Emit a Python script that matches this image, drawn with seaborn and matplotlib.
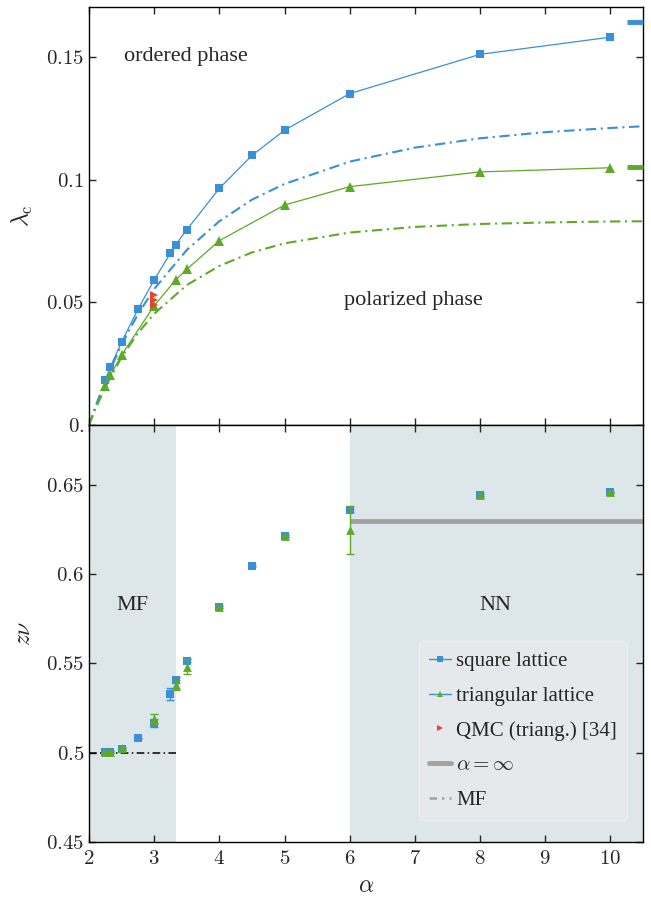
import numpy as np
import pandas as pd
import matplotlib
matplotlib.use('Agg')
import matplotlib.pyplot as plt
import seaborn as sns
from matplotlib.lines import Line2D

# --- top panel: critical coupling lambda_c vs alpha ---
alpha_sq = [2.25, 2.33, 2.5, 2.75, 3.0, 3.25, 3.33, 3.5, 4.0, 4.5, 5.0, 6.0, 8.0, 10.0]
lam_sq = [0.0183, 0.0238, 0.0338, 0.0471, 0.0591, 0.0700, 0.0735, 0.0795,
          0.0964, 0.1098, 0.1201, 0.1350, 0.1510, 0.1580]
alpha_tr = [2.25, 2.33, 2.5, 3.0, 3.33, 3.5, 4.0, 5.0, 6.0, 8.0, 10.0]
lam_tr = [0.0160, 0.0204, 0.0285, 0.0486, 0.0591, 0.0634, 0.0751, 0.0896,
          0.0971, 0.1031, 0.1048]
alpha_qmc = [3.0, 3.0, 3.0]
lam_qmc = [0.0530, 0.0510, 0.0490]
lam_inf = [0.1643, 0.1052]          # square, triangular (alpha = inf)

alpha_mf = [2.0, 2.1, 2.25, 2.5, 2.75, 3.0, 3.5, 4.0, 4.5, 5.0, 6.0, 7.0, 8.0, 9.0, 10.0, 10.5]
lam_mf_sq = [0.0, 0.0076, 0.0180, 0.0328, 0.0451, 0.0554, 0.0713, 0.0830,
             0.0918, 0.0982, 0.1073, 0.1130, 0.1168, 0.1193, 0.1210, 0.1217]
lam_mf_tr = [0.0, 0.0066, 0.0154, 0.0276, 0.0374, 0.0453, 0.0570, 0.0648,
             0.0703, 0.0740, 0.0784, 0.0807, 0.0819, 0.0825, 0.0829, 0.0830]

# --- bottom panel: exponent z*nu ---
znu_sq = [0.5003, 0.5003, 0.5022, 0.5080, 0.5168, 0.5327, 0.5407, 0.5515,
          0.5815, 0.6047, 0.6212, 0.6358, 0.6443, 0.6457]
err_sq = [0.0005, 0.0005, 0.0005, 0.0005, 0.0023, 0.0033, 0.0015, 0.0008,
          0.0005, 0.0005, 0.0005, 0.0008, 0.0008, 0.0005]
znu_tr = [0.5006, 0.5006, 0.5025, 0.5187, 0.5379, 0.5482, 0.5818, 0.6212,
          0.6247, 0.6443, 0.6457]
err_tr = [0.0005, 0.0005, 0.0008, 0.0028, 0.0030, 0.0040, 0.0008, 0.0005,
          0.0132, 0.0012, 0.0005]
znu_inf = 0.6299
znu_mf = 0.5
mf_region = [2.0, 3.333]
nn_region = [6.0, 10.5]

blue = '#3a8fd9'
green = '#5ea926'
red = '#e8432b'
grey = '#a2a2a2'
shade = '#dde6e8'

sns.set_theme(style='ticks')
plt.rcParams['font.family'] = ['Liberation Serif', 'DejaVu Serif']
plt.rcParams['mathtext.fontset'] = 'cm'
plt.rcParams['xtick.direction'] = 'in'
plt.rcParams['ytick.direction'] = 'in'
plt.rcParams['xtick.top'] = True
plt.rcParams['ytick.right'] = True
plt.rcParams['axes.edgecolor'] = 'black'
plt.rcParams['axes.linewidth'] = 1.0

fig = plt.figure(figsize=(6.51, 9.05), dpi=100)
ax1 = fig.add_axes([0.1367, 0.5304, 0.851, 0.4619])
ax2 = fig.add_axes([0.1367, 0.0696, 0.851, 0.4608], sharex=ax1)

top = pd.DataFrame({'alpha': alpha_mf, 'sq': lam_mf_sq, 'tr': lam_mf_tr})
sns.lineplot(data=top, x='alpha', y='sq', ax=ax1, color=blue, lw=1.5,
             zorder=2).lines[-1].set_dashes([5, 2.2, 1, 2.2])
sns.lineplot(data=top, x='alpha', y='tr', ax=ax1, color=green, lw=1.5,
             zorder=2).lines[-1].set_dashes([5, 2.2, 1, 2.2])

sns.lineplot(x=alpha_sq, y=lam_sq, ax=ax1, color=blue, lw=0.9, marker='s',
             markersize=5.5, markeredgewidth=0, zorder=3)
sns.lineplot(x=alpha_tr, y=lam_tr, ax=ax1, color=green, lw=0.9, marker='^',
             markersize=6.5, markeredgewidth=0, zorder=3)
ax1.plot(alpha_qmc, lam_qmc, ls='none', marker='>', color=red, ms=5.5, mew=0, zorder=4)

for val, c in zip(lam_inf, [blue, green]):
    ax1.plot([10.25, 10.5], [val, val], color=c, lw=3.5, solid_capstyle='butt',
             clip_on=False, zorder=5)

ax1.set_xlim(2, 10.5)
ax1.set_ylim(0, 0.1703)
ax1.set_yticks([0, 0.05, 0.1, 0.15])
ax1.set_yticklabels(['$0.$', '$0.05$', '$0.1$', '$0.15$'])
ax1.tick_params(labelbottom=False, labelsize=15, length=5, width=1)
ax1.set_xlabel('')
ax1.set_ylabel(r'$\lambda_{\rm c}$', fontsize=17, labelpad=8)
ax1.text(3.48, 0.150, 'ordered phase', ha='center', va='center', fontsize=16)
ax1.text(6.97, 0.0509, 'polarized phase', ha='center', va='center', fontsize=16)

# bottom panel
ax2.axvspan(*mf_region, color=shade, lw=0, zorder=0)
ax2.axvspan(*nn_region, color=shade, lw=0, zorder=0)
ax2.plot(nn_region, [znu_inf, znu_inf], color=grey, lw=3.5, solid_capstyle='butt', zorder=1)
ax2.plot(mf_region, [znu_mf, znu_mf], color='black', lw=1.1, dashes=[5, 2.2, 1, 2.2], zorder=1)

ax2.errorbar(alpha_sq, znu_sq, yerr=err_sq, fmt='none', ecolor=blue, elinewidth=1,
             capsize=3, capthick=1, zorder=2)
sns.scatterplot(x=alpha_sq, y=znu_sq, ax=ax2, color=blue, marker='s', s=34,
                linewidth=0, zorder=3)
ax2.errorbar(alpha_tr, znu_tr, yerr=err_tr, fmt='none', ecolor=green, elinewidth=1,
             capsize=3, capthick=1, zorder=4)
sns.scatterplot(x=alpha_tr, y=znu_tr, ax=ax2, color=green, marker='^', s=40,
                linewidth=0, zorder=5)

ax2.set_xlim(2, 10.5)
ax2.set_ylim(0.45, 0.6835)
ax2.set_xticks(range(2, 11))
ax2.set_xticklabels([f'${v}$' for v in range(2, 11)])
ax2.set_yticks([0.45, 0.5, 0.55, 0.6, 0.65])
ax2.set_yticklabels(['$0.45$', '$0.5$', '$0.55$', '$0.6$', '$0.65$'])
ax2.tick_params(labelsize=15, length=5, width=1)
ax2.tick_params(axis='x', pad=6)
ax2.set_xlabel(r'$\alpha$', fontsize=17, labelpad=5)
ax2.set_ylabel(r'$z\nu$', fontsize=17, labelpad=8)
ax2.text(2.67, 0.5827, 'MF', ha='center', va='center', fontsize=16)
ax2.text(8.24, 0.5827, 'NN', ha='center', va='center', fontsize=16)

handles = [
    Line2D([], [], color=blue, lw=1, marker='s', ms=4, mew=0),
    Line2D([], [], color=blue, lw=1, marker='^', ms=5, mew=0, markerfacecolor=green),
    Line2D([], [], ls='none', color=red, marker='>', ms=4, mew=0),
    Line2D([], [], color=grey, lw=3.5),
    Line2D([], [], color=grey, lw=1.8, dashes=[3, 2, 1, 2]),
]
labels = ['square lattice', 'triangular lattice', 'QMC (triang.) [34]',
          r'$\alpha=\infty$', 'MF']
leg = ax2.legend(handles, labels, loc='lower right', bbox_to_anchor=(0.972, 0.052),
                 borderaxespad=0, fontsize=15, handlelength=1.05, handletextpad=0.25,
                 labelspacing=0.72, borderpad=0.5, frameon=True, fancybox=True)
leg.get_frame().set_facecolor('#e6e9eb')
leg.get_frame().set_edgecolor('#eceef6')
leg.get_frame().set_alpha(1)

fig.savefig('out.png', dpi=100)
